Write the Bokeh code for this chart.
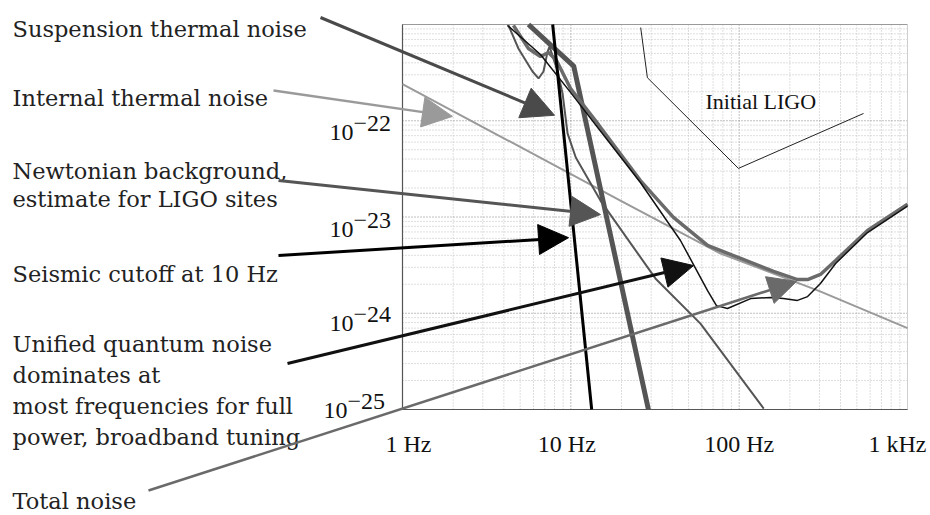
import numpy as np
from bokeh.plotting import figure
from bokeh.models import Range1d, Arrow, NormalHead
from bokeh.core.properties import value
from bokeh.embed import file_html
from bokeh.resources import INLINE

# ---------------- data: frequency (Hz) and strain noise ----------------
seismic_f = [7.8, 13.3]
seismic_h = [1.0e-21, 1.0e-25]

newtonian_f = [5.6, 10.4, 28.9]
newtonian_h = [1.0e-21, 3.7e-22, 1.0e-25]

internal_f = [1.0, 3.8, 19.7, 77.0, 300.0, 1000.0]
internal_h = [2.4e-22, 6.9e-23, 1.48e-23, 4.2e-24, 1.7e-24, 7.0e-25]

suspension_f = [4.26, 4.89, 5.92, 6.43, 6.88, 7.27, 7.47, 8.33, 8.93, 9.56,
                10.7, 15.0, 31.8, 58.9, 140.0]
suspension_h = [9.8e-22, 5.6e-22, 3.25e-22, 2.75e-22, 3.25e-22, 5.2e-22, 5.9e-22,
                3.3e-22, 1.92e-22, 7.4e-23, 4.15e-23, 1.48e-23, 2.3e-24, 7.8e-25,
                1.02e-25]

total_f = [4.56, 5.6, 6.6, 7.37, 8.22, 9.96, 14.6, 25.9, 40.7, 64.9, 102.0,
           160.0, 222.0, 255.0, 304.0, 374.0, 579.0, 1000.0]
total_h = [9.8e-22, 5.64e-22, 4.65e-22, 5.12e-22, 4.22e-22, 2.16e-22, 9.1e-23,
           2.39e-23, 9.9e-24, 5.06e-24, 3.71e-24, 2.72e-24, 2.24e-24, 2.24e-24,
           2.53e-24, 3.53e-24, 7.24e-24, 1.36e-23]

quantum_f = [4.2, 6.6, 9.96, 14.6, 25.9, 44.8, 64.9, 73.3, 85.2, 117.0, 154.0,
             183.0, 222.0, 255.0, 304.0, 374.0, 579.0, 1000.0]
quantum_h = [9.8e-22, 4.88e-22, 1.97e-22, 8.3e-23, 2.28e-23, 5.7e-24, 1.72e-24,
             1.2e-24, 1.12e-24, 1.42e-24, 1.46e-24, 1.42e-24, 1.36e-24, 1.49e-24,
             2.04e-24, 3.29e-24, 6.9e-24, 1.3e-23]

initial_ligo_f = [26.0, 28.5, 99.0, 548.0]
initial_ligo_h = [9.3e-22, 2.8e-22, 3.2e-23, 1.19e-22]

# where each annotation arrow points (Hz, strain)
arrow_tip_f = [8.0, 1.98, 15.0, 9.69, 53.6, 219.0]
arrow_tip_h = [1.14e-22, 1.11e-22, 1.06e-23, 6.1e-24, 3.13e-24, 2.14e-24]

x_ticks = [1, 10, 100, 1000]
x_tick_labels = ["1 Hz", "10 Hz", "100 Hz", "1 kHz"]
y_ticks = [1e-22, 1e-23, 1e-24, 1e-25]
y_tick_exponents = ["\u221222", "\u221223", "\u221224", "\u221225"]

F_MIN, F_MAX = 1.0, 1000.0
H_MIN, H_MAX = 1e-25, 1e-21
grid_decades_f = [1, 10, 100]
grid_decades_h = [1e-25, 1e-24, 1e-23, 1e-22]
grid_multipliers = [1, 2, 3, 4, 5, 6, 7, 8, 9]

annotations = [
    ["Suspension thermal noise"],
    ["Internal thermal noise"],
    ["Newtonian background,", "estimate for LIGO sites"],
    ["Seismic cutoff at 10 Hz"],
    ["Unified quantum noise", "dominates at", "most frequencies for full",
     "power, broadband tuning"],
    ["Total noise"],
]

# ---------------- layout (canvas pixels) ----------------
W, H = 930, 515
BOX_L, BOX_R, BOX_T, BOX_B = 402, 907, 24, 409
LX0, LX1 = np.log10(F_MIN), np.log10(F_MAX)
LY0, LY1 = np.log10(H_MIN), np.log10(H_MAX)
KX = (LX1 - LX0) / (BOX_R - BOX_L)
KY = (LY1 - LY0) / (BOX_B - BOX_T)


def cx(px):
    """canvas x pixel -> frequency"""
    return 10 ** (LX0 + (px - BOX_L) * KX)


def cy(py):
    """canvas y pixel (from top) -> strain"""
    return 10 ** (LY1 - (py - BOX_T) * KY)


def px_of(f):
    return BOX_L + (np.log10(f) - LX0) / KX


def py_of(h):
    return BOX_T + (LY1 - np.log10(h)) / KY


p = figure(width=W, height=H, x_axis_type="log", y_axis_type="log",
           x_range=Range1d(cx(0), cx(W)), y_range=Range1d(cy(H), cy(0)),
           x_axis_location=None, y_axis_location=None,
           toolbar_location=None, output_backend="svg", min_border=0,
           background_fill_color="white", border_fill_color="white")
p.outline_line_color = None
p.grid.visible = False

# ---------------- grid ----------------
for d in grid_decades_f:
    for m in grid_multipliers:
        f = d * m
        major = (m == 1)
        p.line([f, f], [H_MIN, H_MAX], line_color="#808080" if major else "#bdbdbd",
               line_width=1, line_dash="1 2")
for d in grid_decades_h:
    for m in grid_multipliers:
        h = d * m
        major = (m == 1)
        p.line([F_MIN, F_MAX], [h, h], line_color="#808080" if major else "#bdbdbd",
               line_width=1, line_dash="1 2")

# box
p.line([F_MIN, F_MAX], [H_MAX, H_MAX], line_color="#9a9a9a", line_width=1.2)
p.line([F_MAX, F_MAX], [H_MIN, H_MAX], line_color="#cfcfcf", line_width=1)
p.line([F_MIN, F_MIN], [H_MIN, H_MAX], line_color="#555555", line_width=1.2)
p.line([F_MIN, F_MAX], [H_MIN, H_MIN], line_color="#555555", line_width=1.2)

# ---------------- curves ----------------
p.line(internal_f, internal_h, line_color="#9a9a9a", line_width=2)
p.line(suspension_f, suspension_h, line_color="#555555", line_width=2)
p.line(newtonian_f, newtonian_h, line_color="#555555", line_width=5)
p.line(total_f, total_h, line_color="#6a6a6a", line_width=3.5)
p.line(quantum_f, quantum_h, line_color="#111111", line_width=1.5)
p.line(seismic_f, seismic_h, line_color="#000000", line_width=3)
p.line(initial_ligo_f, initial_ligo_h, line_color="#222222", line_width=1)

p.text(x=[cx(705)], y=[cy(101)], text=["Initial LIGO"],
       text_font=value("Liberation Serif"), text_font_size="22px",
       text_color="#111111", text_baseline="alphabetic", text_align="left")

# ---------------- tick labels ----------------
x_label_dx = [6, -4, 0, -10]
p.text(x=[cx(px_of(t) + o) for t, o in zip(x_ticks, x_label_dx)],
       y=[cy(443)] * len(x_ticks), text=x_tick_labels,
       text_font=value("Liberation Serif"), text_font_size="24px",
       text_color="#111111", text_baseline="alphabetic", text_align="center")

y_label_dy = [12, 12.5, 10, 1]
y_label_right = [353, 353, 353, 347]
p.text(x=[cx(r) for r in y_label_right],
       y=[cy(py_of(t) + o) for t, o in zip(y_ticks, y_label_dy)],
       text=["10"] * len(y_ticks),
       text_font=value("Liberation Serif"), text_font_size="24px",
       text_color="#111111", text_baseline="alphabetic", text_align="right")
p.text(x=[cx(r) for r in y_label_right],
       y=[cy(py_of(t) + o - 9) for t, o in zip(y_ticks, y_label_dy)],
       text=y_tick_exponents,
       text_font=value("Liberation Serif"), text_font_size="24px",
       text_color="#111111", text_baseline="alphabetic", text_align="left")

# ---------------- annotations ----------------
label_baselines = [28, 97, 170, 273, 343, 500]
line_gaps = [0, 0, 28, 0, 31.3, 0]
xs, ys, ts = [], [], []
for lines, b, g in zip(annotations, label_baselines, line_gaps):
    for i, t in enumerate(lines):
        xs.append(cx(12))
        ys.append(cy(b + i * g))
        ts.append(t)
p.text(x=xs, y=ys, text=ts, text_font=value("DejaVu Serif"), text_font_size="22.5px",
       text_color="#222222", text_baseline="alphabetic", text_align="left")

arrow_starts = [(320, 17), (273, 90), (278, 180), (278, 255), (287, 363), (148, 490)]
arrow_colors = ["#4a4a4a", "#9a9a9a", "#555555", "#000000", "#111111", "#6a6a6a"]
arrow_widths = [3, 2.5, 3, 3, 3, 2.5]
arrow_heads = [32, 30, 30, 30, 30, 28]
for (sx, sy), tf, th, c, w, s in zip(arrow_starts, arrow_tip_f, arrow_tip_h,
                                      arrow_colors, arrow_widths, arrow_heads):
    p.add_layout(Arrow(end=NormalHead(size=s, fill_color=c, line_color=c, line_width=1),
                       x_start=cx(sx), y_start=cy(sy), x_end=tf, y_end=th,
                       line_color=c, line_width=w))

open("out.html", "w").write(file_html(p, INLINE))
